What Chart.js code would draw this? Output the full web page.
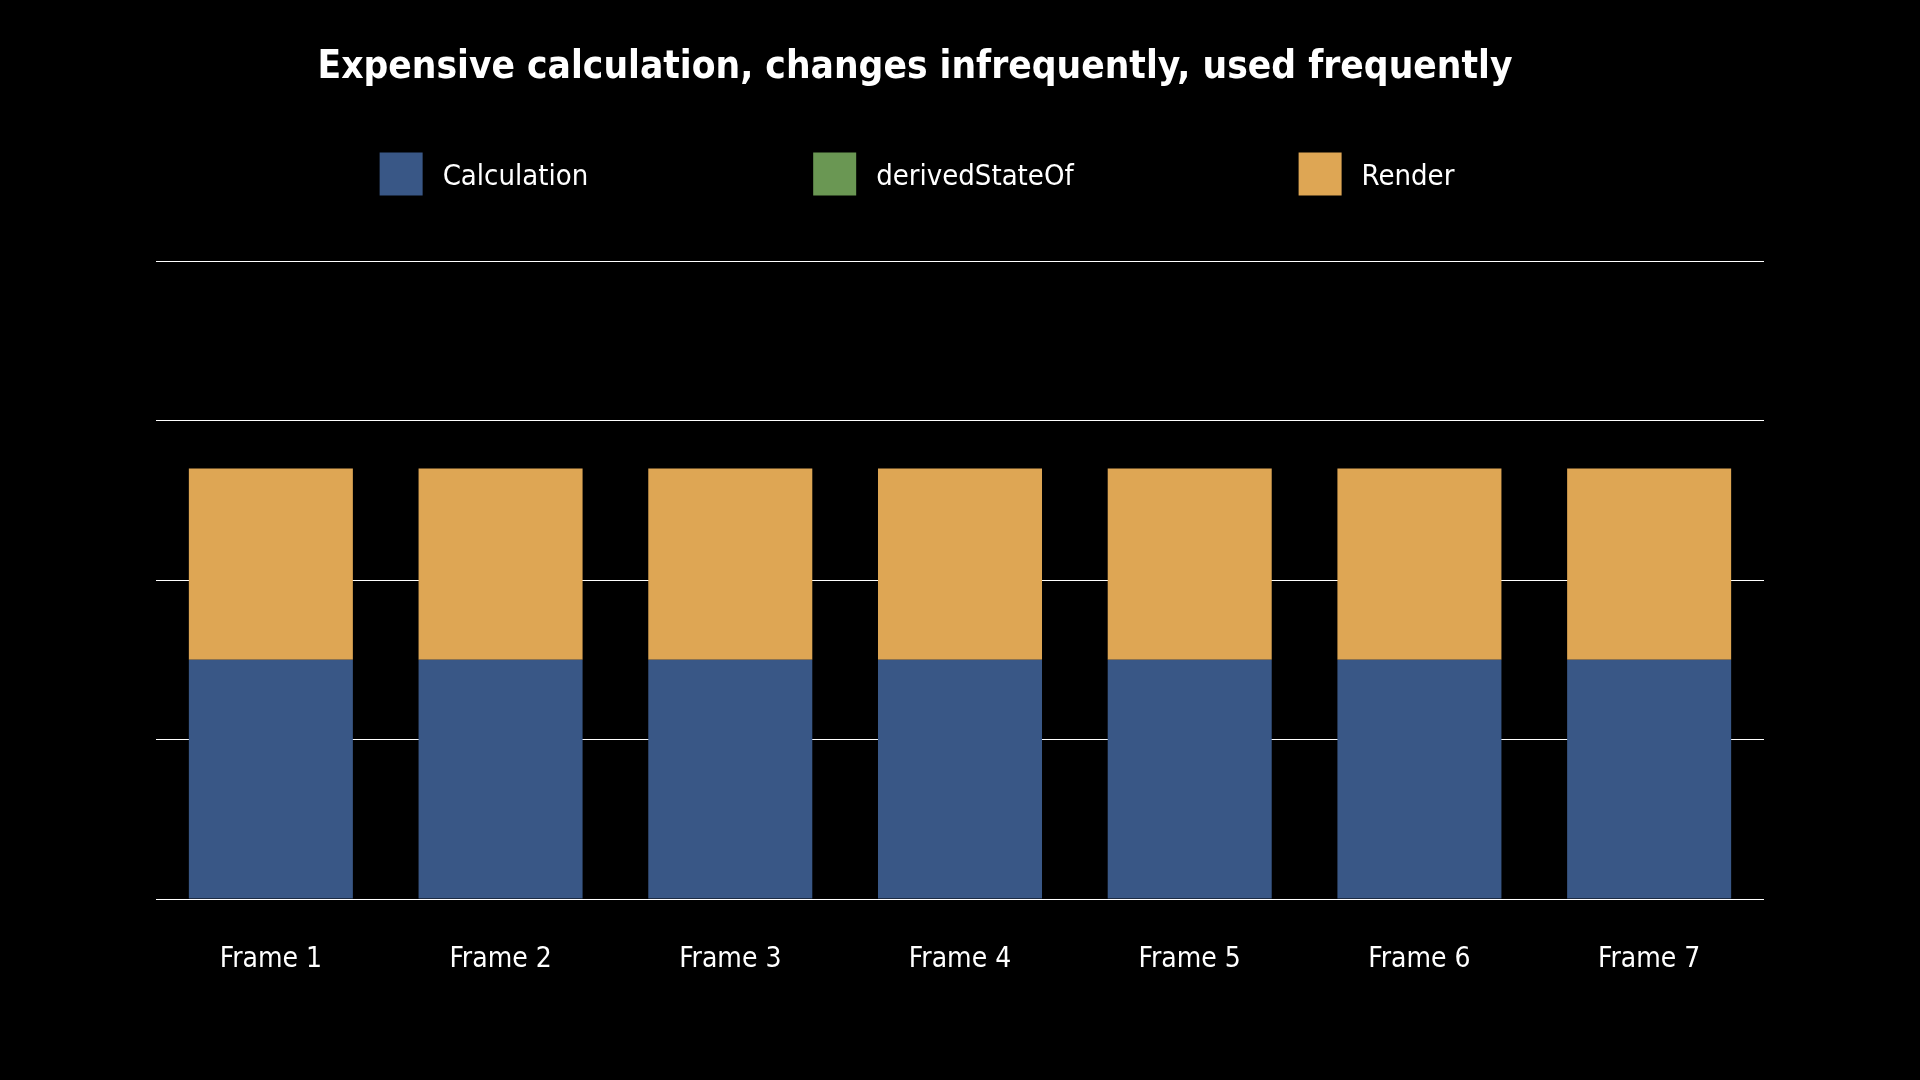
<!DOCTYPE html>
<html>
<head>
<meta charset="utf-8">
<script src="https://cdn.jsdelivr.net/npm/chart.js@4"></script>
<style>
    html, body { margin: 0; padding: 0; background: #000; }
    #wrap { position: relative; width: 1920px; height: 1080px; }
</style>
</head>
<body>
<div id="wrap"><canvas id="frameChart"></canvas></div>
<script>
const frameLabels = ["Frame 1", "Frame 2", "Frame 3", "Frame 4", "Frame 5", "Frame 6", "Frame 7"];
const calculationTimes = [1.5, 1.5, 1.5, 1.5, 1.5, 1.5, 1.5];
const derivedStateTimes = [0, 0, 0, 0, 0, 0, 0];
const renderTimes = [1.2, 1.2, 1.2, 1.2, 1.2, 1.2, 1.2];
const yTicks = [0, 1, 2, 3, 4];

const FONT = "'Liberation Sans Narrow', 'DejaVu Sans Condensed', 'Roboto Condensed', sans-serif";

// legend with wide fixed gaps between items, drawn on the canvas
const spacedLegend = {
    id: "spacedLegend",
    afterDraw(chart, args, opts) {
        const ctx = chart.ctx;
        const box = opts.boxSize;
        ctx.save();
        ctx.font = opts.fontSize + "px " + FONT;
        ctx.textBaseline = "middle";
        const items = chart.data.datasets.map((ds) => ({
            text: ds.label,
            color: ds.backgroundColor,
            width: box + opts.textGap + ctx.measureText(ds.label).width,
        }));
        const total = items.reduce((s, it) => s + it.width, 0) + opts.itemGap * (items.length - 1);
        let x = opts.centerX - total / 2;
        const y = opts.centerY;
        items.forEach((it) => {
            ctx.fillStyle = it.color;
            ctx.fillRect(x, y - box / 2, box, box);
            ctx.fillStyle = "#ffffff";
            ctx.fillText(it.text, x + box + opts.textGap, y + 3);
            x += it.width + opts.itemGap;
        });
        ctx.restore();
    },
};

const canvas = document.getElementById("frameChart");
canvas.width = 1920;
canvas.height = 1080;

new Chart(canvas, {
    type: "bar",
    data: {
        labels: frameLabels,
        datasets: [
            { label: "Calculation", data: calculationTimes, backgroundColor: "#395786" },
            { label: "derivedStateOf", data: derivedStateTimes, backgroundColor: "#6a9753" },
            { label: "Render", data: renderTimes, backgroundColor: "#dea654" },
        ],
    },
    options: {
        responsive: false,
        animation: false,
        devicePixelRatio: 1,
        layout: {
            padding: { left: 66, right: 156, top: 0, bottom: 0 },
        },
        datasets: {
            bar: { barPercentage: 0.714, categoryPercentage: 1.0 },
        },
        plugins: {
            legend: { display: false },
            tooltip: { enabled: false },
            title: {
                display: true,
                text: "Expensive calculation, changes infrequently, used frequently",
                color: "#ffffff",
                font: { family: FONT, size: 38.5, weight: "bold", lineHeight: 1.2 },
                padding: { top: 45, bottom: 170 },
            },
            spacedLegend: {
                boxSize: 43,
                textGap: 20,
                itemGap: 225,
                fontSize: 29,
                centerX: 917,
                centerY: 174,
            },
        },
        scales: {
            x: {
                stacked: true,
                grid: { display: false },
                border: { display: false },
                ticks: {
                    color: "#ffffff",
                    font: { family: FONT, size: 28 },
                    padding: 36,
                    maxRotation: 0,
                },
                afterFit(scale) { scale.height = 181; },
            },
            y: {
                stacked: true,
                min: 0,
                max: 4,
                afterBuildTicks(scale) { scale.ticks = yTicks.map((v) => ({ value: v })); },
                ticks: { display: false },
                grid: { color: "#ffffff", lineWidth: 1, drawTicks: false },
                border: { display: false },
                afterFit(scale) { scale.width = 90; },
            },
        },
    },
    plugins: [spacedLegend],
});
</script>
</body>
</html>
